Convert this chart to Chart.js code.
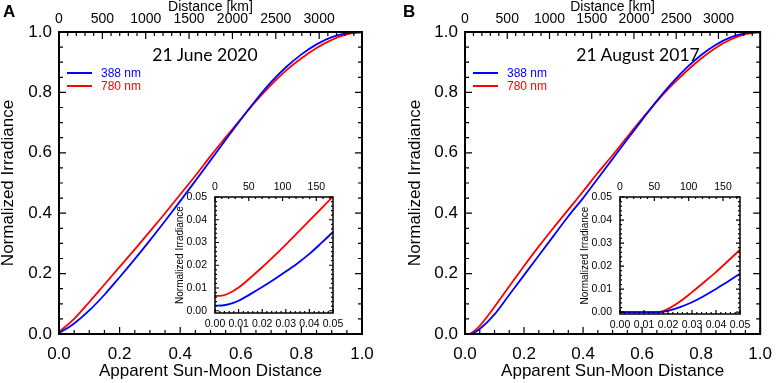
<!DOCTYPE html>
<html>
<head>
<meta charset="utf-8">
<script src="https://cdn.jsdelivr.net/npm/chart.js@4.4.1/dist/chart.umd.min.js"></script>
<style>
  body { margin: 0; background: #fff; }
  #wrap { position: relative; width: 782px; height: 383px; font-family: "Liberation Sans", Arial, sans-serif; }
  canvas { position: absolute; left: 0; top: 0; }
  .panel { position: absolute; font-weight: bold; font-size: 17px; line-height: 17px; }
  .date { position: absolute; font-family: Lato, "Open Sans", sans-serif; font-size: 17.5px; line-height: 1; transform: translate(-50%, -50%); white-space: nowrap; }
  .key { position: absolute; height: 2px; width: 25px; }
  .keytxt { position: absolute; font-size: 12px; line-height: 1; transform: translateY(-50%); }
</style>
</head>
<body>
<div id="wrap">
  <canvas id="mainA" width="782" height="383"></canvas>
  <canvas id="insetA" width="782" height="383"></canvas>
  <canvas id="mainB" width="782" height="383"></canvas>
  <canvas id="insetB" width="782" height="383"></canvas>

  <div class="panel" style="left:3px;top:3px">A</div>
  <div class="panel" style="left:403px;top:3px">B</div>

  <div class="date" style="left:205px;top:55px">21 June 2020</div>
  <div class="date" style="left:638px;top:55px">21 August 2017</div>

  <div class="key" style="left:67px;top:72px;background:#0000ff"></div>
  <div class="keytxt" style="left:101px;top:73px;color:#0000ff">388 nm</div>
  <div class="key" style="left:67px;top:85px;background:#ff0000"></div>
  <div class="keytxt" style="left:101px;top:86px;color:#ff0000">780 nm</div>

  <div class="key" style="left:473px;top:72px;background:#0000ff"></div>
  <div class="keytxt" style="left:507px;top:73px;color:#0000ff">388 nm</div>
  <div class="key" style="left:473px;top:85px;background:#ff0000"></div>
  <div class="keytxt" style="left:507px;top:86px;color:#ff0000">780 nm</div>
</div>

<script>
// apparent sun-moon distance (x) and normalized irradiance
const distA = [0, 0.05, 0.1, 0.15, 0.2, 0.25, 0.3, 0.35, 0.4, 0.45, 0.5, 0.55, 0.6, 0.65, 0.7, 0.75, 0.8, 0.85, 0.9, 0.95, 1.0];
const june388 = [0.0025, 0.035, 0.078, 0.130, 0.188, 0.248, 0.310, 0.374, 0.440, 0.507, 0.575, 0.643, 0.710, 0.775, 0.834, 0.884, 0.926, 0.959, 0.983, 0.996, 1.0];
const june780 = [0.0065, 0.050, 0.106, 0.164, 0.222, 0.280, 0.340, 0.400, 0.462, 0.524, 0.589, 0.651, 0.712, 0.771, 0.825, 0.873, 0.913, 0.947, 0.974, 0.992, 1.0];

const distB = [0, 0.015, 0.03, 0.05, 0.1, 0.15, 0.2, 0.25, 0.3, 0.35, 0.4, 0.45, 0.5, 0.55, 0.6, 0.65, 0.7, 0.75, 0.8, 0.85, 0.9, 0.95, 1.0];
const aug388 = [0, 0, 0.0043, 0.0167, 0.065, 0.130, 0.195, 0.260, 0.325, 0.390, 0.450, 0.515, 0.580, 0.645, 0.709, 0.772, 0.830, 0.881, 0.924, 0.958, 0.982, 0.996, 1.0];
const aug780 = [0, 0, 0.0087, 0.027, 0.090, 0.158, 0.225, 0.290, 0.352, 0.412, 0.472, 0.534, 0.592, 0.653, 0.713, 0.770, 0.823, 0.870, 0.912, 0.948, 0.975, 0.993, 1.0];

// insets (first 0.05 of the curves)
const insetDistA = [0, 0.003, 0.006, 0.01, 0.015, 0.02, 0.025, 0.03, 0.035, 0.04, 0.045, 0.05];
const insetJune388 = [0.0022, 0.0023, 0.0029, 0.0044, 0.0073, 0.0104, 0.0137, 0.0172, 0.0209, 0.0250, 0.0297, 0.0346];
const insetJune780 = [0.0065, 0.0066, 0.0077, 0.0102, 0.0145, 0.0191, 0.0240, 0.0291, 0.0343, 0.0396, 0.0449, 0.0502];

const insetDistB = [0, 0.005, 0.01, 0.016, 0.02, 0.025, 0.03, 0.035, 0.04, 0.045, 0.05];
const insetAug388 = [0, 0, 0, 0, 0.0006, 0.0022, 0.0043, 0.0070, 0.0101, 0.0133, 0.0167];
const insetAug780 = [0, 0, 0, 0, 0.0014, 0.0046, 0.0087, 0.0130, 0.0174, 0.0222, 0.0271];

// tick labels
const fracTicks = [0, 0.2, 0.4, 0.6, 0.8, 1.0];
const kmTicks = [0, 500, 1000, 1500, 2000, 2500, 3000];
const insetFracTicks = [0, 0.01, 0.02, 0.03, 0.04, 0.05];
const insetKmTicks = [0, 50, 100, 150];

// top axis: km along the path for distance 1.0
const kmAtOne = 3494;

const BLUE = '#0000ff';
const RED = '#ff0000';
const TICK_FONT = 'Liberation Sans';

function pts(xs, ys) {
  return xs.map((x, i) => ({ x: x, y: ys[i] }));
}

function line(xs, ys, color) {
  return {
    data: pts(xs, ys),
    borderColor: color,
    borderWidth: 1.8,
    pointRadius: 0,
    cubicInterpolationMode: 'monotone',
    xAxisID: 'x'
  };
}

function fixTicks(values) {
  return s => { s.ticks = values.map(v => ({ value: v })); };
}

// box + inward IDL-style ticks on all four sides
function makeFrame(marks, majorLen, minorLen, width) {
  return {
    id: 'frame',
    afterDatasetsDraw(chart) {
      const { ctx, chartArea: a, scales } = chart;
      ctx.save();
      ctx.strokeStyle = '#000';
      ctx.lineWidth = width;
      ctx.strokeRect(a.left, a.top, a.right - a.left, a.bottom - a.top);
      ctx.lineWidth = 1.2;
      ctx.beginPath();
      marks.forEach(m => {
        const s = scales[m.axis];
        const k0 = Math.ceil(s.min / m.minor - 1e-6);
        const k1 = Math.floor(s.max / m.minor + 1e-6);
        for (let k = k0; k <= k1; k++) {
          const v = k * m.minor;
          const major = Math.abs(v / m.major - Math.round(v / m.major)) < 1e-6;
          const len = major ? majorLen : minorLen;
          const p = s.getPixelForValue(v);
          m.sides.forEach(side => {
            if (side === 'bottom') { ctx.moveTo(p, a.bottom); ctx.lineTo(p, a.bottom - len); }
            if (side === 'top') { ctx.moveTo(p, a.top); ctx.lineTo(p, a.top + len); }
            if (side === 'left') { ctx.moveTo(a.left, p); ctx.lineTo(a.left + len, p); }
            if (side === 'right') { ctx.moveTo(a.right, p); ctx.lineTo(a.right - len, p); }
          });
        }
      });
      ctx.stroke();
      ctx.restore();
    }
  };
}

function mainChart(id, xs, blue, red, pad, yWidth) {
  return new Chart(document.getElementById(id), {
    type: 'line',
    data: { datasets: [line(xs, blue, BLUE), line(xs, red, RED)] },
    options: {
      responsive: false,
      animation: false,
      layout: { padding: pad },
      plugins: { legend: { display: false }, tooltip: { enabled: false } },
      scales: {
        x: {
          type: 'linear', position: 'bottom', min: 0, max: 1,
          grid: { display: false, drawTicks: false }, border: { display: false },
          afterBuildTicks: fixTicks(fracTicks),
          ticks: { autoSkip: false, maxRotation: 0, padding: 10, color: '#000',
                   font: { family: TICK_FONT, size: 17 }, callback: v => v.toFixed(1) },
          title: { display: true, text: 'Apparent Sun-Moon Distance', color: '#000',
                   font: { family: TICK_FONT, size: 17, lineHeight: 1 }, padding: { top: 0, bottom: 3 } },
          afterFit: s => { s.height = 49; }
        },
        km: {
          type: 'linear', position: 'top', min: 0, max: kmAtOne,
          grid: { display: false, drawTicks: false }, border: { display: false },
          afterBuildTicks: fixTicks(kmTicks),
          ticks: { autoSkip: false, maxRotation: 0, padding: 4, color: '#000',
                   font: { family: TICK_FONT, size: 14 }, callback: v => String(v) },
          title: { display: true, text: 'Distance [km]', color: '#000',
                   font: { family: TICK_FONT, size: 14, lineHeight: 1 }, padding: { top: 0, bottom: 0 } },
          afterFit: s => { s.height = 32; }
        },
        y: {
          type: 'linear', position: 'left', min: 0, max: 1,
          grid: { display: false, drawTicks: false }, border: { display: false },
          afterBuildTicks: fixTicks(fracTicks),
          ticks: { autoSkip: false, padding: 7, color: '#000',
                   font: { family: TICK_FONT, size: 17 }, callback: v => v.toFixed(1) },
          title: { display: true, text: 'Normalized Irradiance', color: '#000',
                   font: { family: TICK_FONT, size: 17, lineHeight: 1 }, padding: { top: 0, bottom: 0 } },
          afterFit: s => { s.width = yWidth; }
        }
      }
    },
    plugins: [makeFrame([
      { axis: 'x', major: 0.2, minor: 0.05, sides: ['bottom'] },
      { axis: 'km', major: 500, minor: 100, sides: ['top'] },
      { axis: 'y', major: 0.2, minor: 0.05, sides: ['left', 'right'] }
    ], 7, 4, 2)]
  });
}

function insetChart(id, xs, blue, red, pad, yMin) {
  return new Chart(document.getElementById(id), {
    type: 'line',
    data: { datasets: [line(xs, blue, BLUE), line(xs, red, RED)] },
    options: {
      responsive: false,
      animation: false,
      layout: { padding: pad },
      plugins: { legend: { display: false }, tooltip: { enabled: false } },
      scales: {
        x: {
          type: 'linear', position: 'bottom', min: 0, max: 0.05,
          grid: { display: false, drawTicks: false }, border: { display: false },
          afterBuildTicks: fixTicks(insetFracTicks),
          ticks: { autoSkip: false, maxRotation: 0, padding: 5, color: '#000',
                   font: { family: TICK_FONT, size: 10.5 }, callback: v => v.toFixed(2) },
          afterFit: s => { s.height = 25; }
        },
        km: {
          type: 'linear', position: 'top', min: 0, max: kmAtOne * 0.05,
          grid: { display: false, drawTicks: false }, border: { display: false },
          afterBuildTicks: fixTicks(insetKmTicks),
          ticks: { autoSkip: false, maxRotation: 0, padding: 4, color: '#000',
                   font: { family: TICK_FONT, size: 10.5 }, callback: v => String(v) },
          afterFit: s => { s.height = 25; }
        },
        y: {
          type: 'linear', position: 'left', min: yMin, max: 0.05,
          grid: { display: false, drawTicks: false }, border: { display: false },
          afterBuildTicks: fixTicks(insetFracTicks),
          ticks: { autoSkip: false, padding: 8, color: '#000',
                   font: { family: TICK_FONT, size: 10.5 }, callback: v => v.toFixed(2) },
          title: { display: true, text: 'Normalized Irradiance', color: '#000',
                   font: { family: TICK_FONT, size: 10, lineHeight: 1 }, padding: { top: 5.5, bottom: 0 } },
          afterFit: s => { s.width = 45; }
        }
      }
    },
    plugins: [makeFrame([
      { axis: 'x', major: 0.01, minor: 0.002, sides: ['bottom'] },
      { axis: 'km', major: 50, minor: 10, sides: ['top'] },
      { axis: 'y', major: 0.01, minor: 0.002, sides: ['left', 'right'] }
    ], 4, 2, 1.5)]
  });
}

// chart areas: A 59..362 x 32..334, B 465..768 x 32..334
mainChart('mainA', distA, june388, june780, { left: 0, right: 420, top: 0, bottom: 0 }, 59);
mainChart('mainB', distB, aug388, aug780, { left: 407, right: 14, top: 0, bottom: 0 }, 58);

// insets: A 215..333 x 197..313, B 620..740 x 197..314
insetChart('insetA', insetDistA, insetJune388, insetJune780, { left: 170, right: 449, top: 172, bottom: 45 }, -0.001);
insetChart('insetB', insetDistB, insetAug388, insetAug780, { left: 575, right: 42, top: 172, bottom: 44 }, -0.0008);
</script>
</body>
</html>
